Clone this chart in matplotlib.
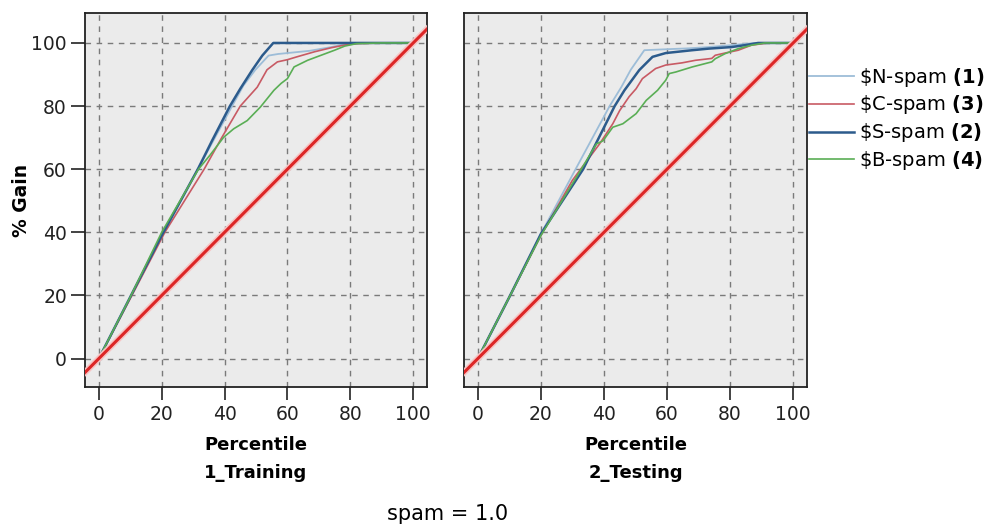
import matplotlib
matplotlib.use("Agg")
import matplotlib.pyplot as plt

# gains curves (percentile -> % gain)
x_n_tr = [0, 10, 20, 31.5, 42.4, 46, 49.8, 54, 57, 60, 67, 74, 78, 85, 100]
y_n_tr = [0, 19.5, 39, 60, 80, 86.5, 91.5, 96, 96.5, 96.8, 97.5, 98.7, 99.6, 100, 100]
x_c_tr = [0, 10, 21, 33.5, 39.1, 45, 50.4, 53.5, 56.8, 60, 63, 68.6, 74, 78, 82, 90, 100]
y_c_tr = [0, 19, 40, 60, 70, 80, 86, 91.5, 94, 94.7, 95.6, 97.2, 98.5, 99.3, 99.8, 100, 100]
x_s_tr = [0, 10, 20, 31.5, 36, 41.7, 45, 48.8, 52, 55.5, 100]
y_s_tr = [0, 19.5, 39, 60, 69, 80, 85.5, 91.4, 96, 100, 100]
x_b_tr = [0, 10, 20, 31.7, 35.4, 39.7, 42.9, 47.2, 51.4, 55.7, 58, 60, 62.1, 66.4, 70.7, 75, 78.2, 82, 90, 100]
y_b_tr = [0, 19.5, 40, 60, 64.5, 70.1, 72.8, 75.4, 79.7, 85, 87.2, 88.7, 92.4, 94.5, 96.1, 97.7, 99, 99.8, 100, 100]

x_n_te = [0, 10, 20, 31, 41.8, 45.5, 48.5, 52.8, 59.6, 67, 73.2, 80.5, 87.9, 100]
y_n_te = [0, 19.5, 39.5, 60, 80, 86, 91.5, 97.7, 98, 98.3, 98.7, 99.3, 100, 100]
x_c_te = [0, 10, 20, 30, 38.6, 40.7, 42.8, 45, 48, 50.2, 52.2, 56.4, 59.6, 64.8, 69, 74.2, 75.3, 78.4, 82.6, 86.8, 92, 100]
y_c_te = [0, 19.5, 39, 56.5, 68, 71.2, 74.4, 78.6, 83, 85.5, 88.7, 91.9, 93, 93.7, 94.5, 95.1, 96.1, 96.8, 97.7, 99.3, 100, 100]
x_s_te = [0, 10, 20, 33.4, 43.4, 46.5, 51.2, 55.4, 59.6, 68, 73.2, 80.5, 84.7, 88.9, 100]
y_s_te = [0, 19.5, 39.5, 60, 80, 85, 91.4, 95.6, 96.8, 97.7, 98.2, 98.7, 99.3, 100, 100]
x_b_te = [0, 10, 20, 29.2, 34, 37.6, 39.7, 42.8, 46, 50.2, 53.4, 57, 59.6, 60.7, 62.8, 68, 74.2, 75.3, 78.4, 82.6, 86.8, 91, 100]
y_b_te = [0, 19.5, 39, 54.1, 62, 68, 69, 73.3, 74.4, 77.6, 81.8, 85, 88.2, 90.3, 90.8, 92.4, 94, 95, 96.6, 98.2, 99.3, 100, 100]

diag = [-10, 110]
ticks = [0, 20, 40, 60, 80, 100]
labels = ["$N-spam", "$C-spam", "$S-spam", "$B-spam"]
ranks = ["(1)", "(3)", "(2)", "(4)"]
colors = ["#9dbdd8", "#c85a64", "#2c5b8c", "#5aae55"]
widths = [1.3, 1.2, 1.8, 1.2]
panels = ["1_Training", "2_Testing"]

plt.rcParams["font.family"] = "DejaVu Sans"

fig = plt.figure(figsize=(10.01, 5.25), dpi=100)
ax1 = fig.add_axes([0.0849, 0.2629, 0.3417, 0.7124])
ax2 = fig.add_axes([0.4635, 0.2629, 0.3427, 0.7124])

data = [
    [(x_n_tr, y_n_tr), (x_c_tr, y_c_tr), (x_s_tr, y_s_tr), (x_b_tr, y_b_tr)],
    [(x_n_te, y_n_te), (x_c_te, y_c_te), (x_s_te, y_s_te), (x_b_te, y_b_te)],
]

handles = []
for k, ax in enumerate([ax1, ax2]):
    ax.set_facecolor("#ebebeb")
    for i, (xs, ys) in enumerate(data[k]):
        h, = ax.plot(xs, ys, color=colors[i], lw=widths[i], zorder=3)
        if k == 0:
            handles.append(h)
    # red baseline with a soft halo
    ax.plot(diag, diag, color="#f7c4c4", lw=4.5, zorder=4, solid_capstyle="butt")
    ax.plot(diag, diag, color="#dc2626", lw=2.2, zorder=5, solid_capstyle="butt")

    ax.set_xlim(-4.4, 104.4)
    ax.set_ylim(-9, 109.5)
    ax.set_xticks(ticks)
    ax.set_yticks(ticks)
    ax.grid(True, color="#7a7a7a", ls=(0, (4, 4)), lw=1.0)
    ax.set_axisbelow(True)
    for s in ax.spines.values():
        s.set_linewidth(1.3)
        s.set_color("#222222")
    ax.tick_params(axis="x", direction="out", length=9, width=1.2, pad=4,
                   labelsize=13.5, colors="#222222")
    ax.set_xlabel("Percentile\n" + panels[k], fontsize=13, fontweight="bold",
                  linespacing=1.75, labelpad=8.5)

ax1.tick_params(axis="y", direction="out", length=10, width=1.2, pad=3,
                labelsize=13.5, colors="#222222")
ax1.set_ylabel("% Gain", fontsize=13.5, fontweight="bold", labelpad=0)
ax2.tick_params(axis="y", left=False, labelleft=False)

leg_labels = [r"\%s $\mathbf{%s}$" % (lab, r) for lab, r in zip(labels, ranks)]
fig.legend(handles, leg_labels, loc="upper left", bbox_to_anchor=(0.808, 0.875),
           frameon=False, fontsize=14, handlelength=2.3, handletextpad=0.26,
           labelspacing=0.25, borderaxespad=0, borderpad=0)

fig.text(0.447, 0.02, "spam = 1.0", ha="center", va="center", fontsize=15)

fig.savefig("out.png", dpi=100)
